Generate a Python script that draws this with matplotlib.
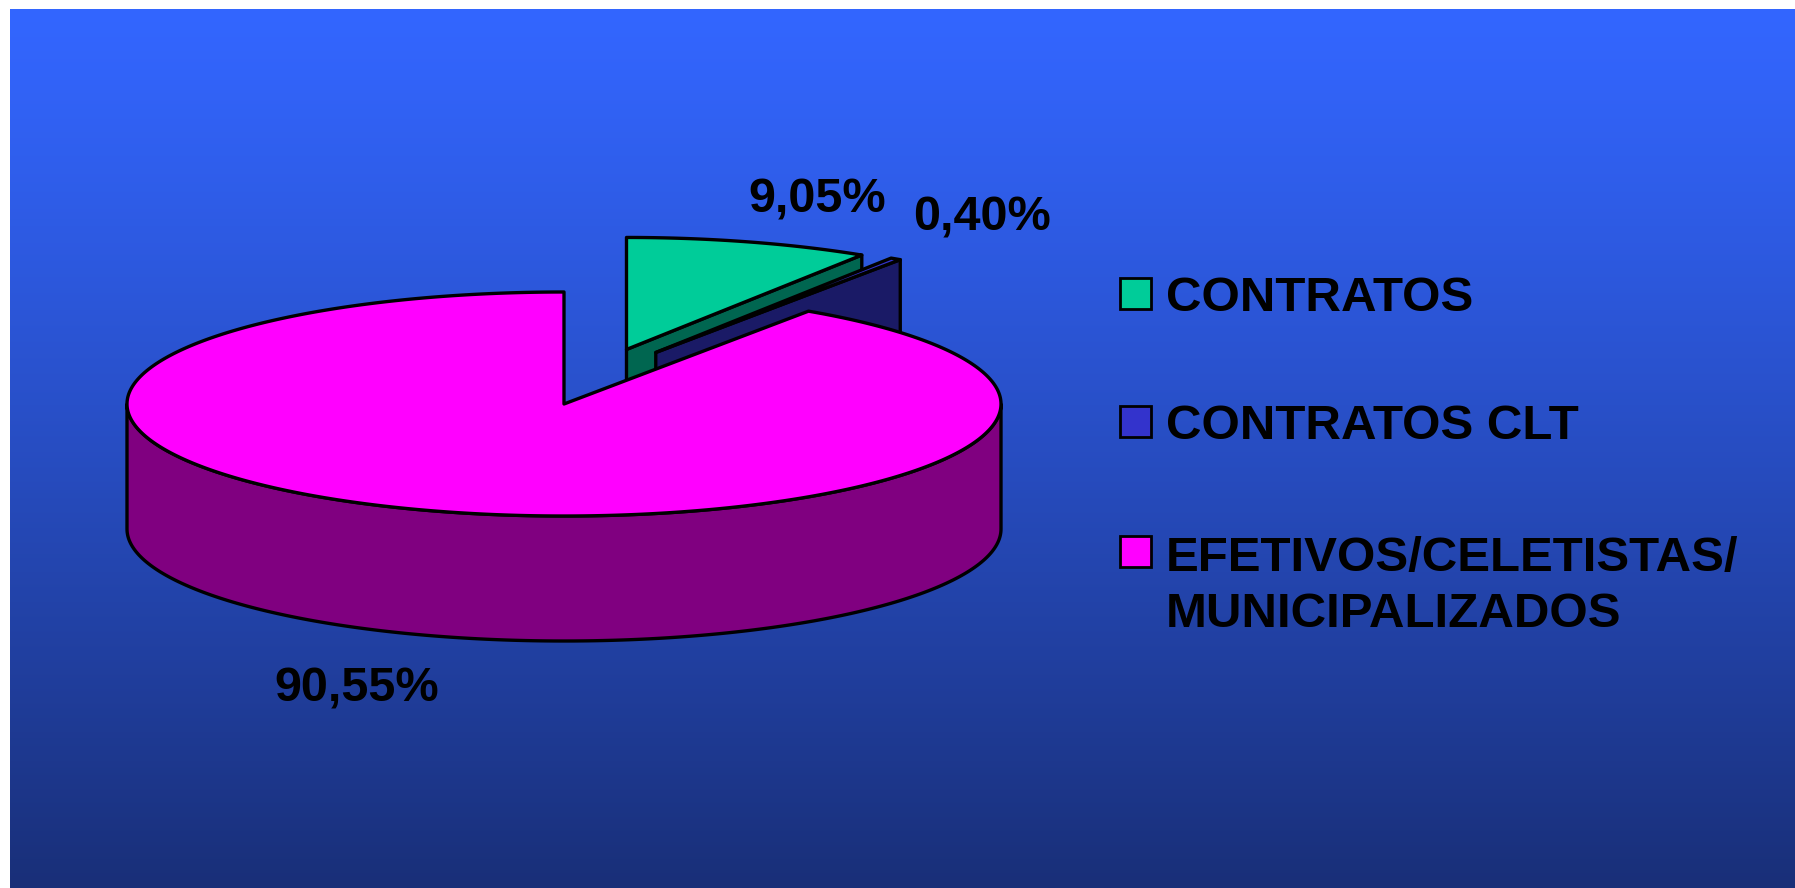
import numpy as np
import matplotlib
matplotlib.use('Agg')
import matplotlib.pyplot as plt
from matplotlib.patches import Polygon, Rectangle

# ---------------- data ----------------
categories = ['CONTRATOS', 'CONTRATOS CLT', 'EFETIVOS/CELETISTAS/\nMUNICIPALIZADOS']
values = [9.05, 0.40, 90.55]
value_labels = ['9,05%', '0,40%', '90,55%']

# ---------------- style ----------------
top_colors = ['#00CC99', '#3333CC', '#FF00FF']
side_colors = ['#006650', '#1A1A66', '#800080']
explode_xy = [(0.143, 0.487), (0.21, 0.46), (0.0, 0.0)]   # in radius units
label_xy = [(817, 212), (982, 230), (357, 701)]            # text baselines (px)
legend_y = [293.5, 421.5, 551.0]
LINE_STEP = 58.0

W, H = 1795, 888
fig = plt.figure(figsize=(W / 100, H / 100), dpi=100, facecolor='white')
ax = fig.add_axes([0, 0, 1, 1])
ax.axis('off')

# background gradient
top_c = np.array([51, 102, 255]) / 255
bot_c = np.array([25, 47, 120]) / 255
f = np.linspace(0, 1, 400) ** 1.15
grad = top_c[None, :] * (1 - f[:, None]) + bot_c[None, :] * f[:, None]
ax.imshow(grad[:, None, :], extent=(10, W, H, 10), aspect='auto', zorder=0,
          interpolation='bilinear')
ax.set_xlim(0, W)
ax.set_ylim(H, 0)

# ---------------- 3D pie ----------------
cx, cy, A, B, D = 564.0, 404.0, 437.0, 112.0, 125.0
start = 90.0
fr = np.array(values) / np.sum(values)
cum = np.concatenate([[0.0], np.cumsum(fr)])
edge_kw = dict(edgecolor='black', linewidth=2.4, joinstyle='round')


def rim(th, ox, oy, z):
    t = np.radians(th)
    return np.column_stack([cx + ox + A * np.cos(t), cy + oy - B * np.sin(t) + z])


slices = []
for i in range(len(values)):
    lo = start - 360.0 * cum[i + 1]
    hi = start - 360.0 * cum[i]
    mid = np.radians((lo + hi) / 2)
    slices.append((np.sin(mid), i, lo, hi))
slices.sort(key=lambda s: -s[0])

for order, (_, i, lo, hi) in enumerate(slices):
    ox = explode_xy[i][0] * A
    oy = -explode_xy[i][1] * B
    z0 = 2 + order * 3
    vtop = np.array([[cx + ox, cy + oy]])
    vbot = np.array([[cx + ox, cy + oy + D]])
    # radial faces
    for ang, vis in [(lo, np.cos(np.radians(lo)) > 1e-6),
                     (hi, np.cos(np.radians(hi)) < -1e-6)]:
        if vis:
            rt = rim([ang], ox, oy, 0)
            rb = rim([ang], ox, oy, D)
            poly = np.vstack([vtop, rt, rb, vbot])
            ax.add_patch(Polygon(poly, closed=True, facecolor=side_colors[i],
                                 zorder=z0, **edge_kw))
    # outer side (front-facing part)
    for k in range(-2, 3):
        s = max(lo, -180 + 360 * k)
        e = min(hi, 360 * k)
        if e > s:
            th = np.linspace(s, e, 200)
            poly = np.vstack([rim(th, ox, oy, 0), rim(th[::-1], ox, oy, D)])
            ax.add_patch(Polygon(poly, closed=True, facecolor=side_colors[i],
                                 zorder=z0 + 1, **edge_kw))
    # top face
    th = np.linspace(lo, hi, max(3, int((hi - lo) * 2)))
    poly = np.vstack([vtop, rim(th, ox, oy, 0)])
    ax.add_patch(Polygon(poly, closed=True, facecolor=top_colors[i],
                         zorder=z0 + 2, **edge_kw))

FONT = ['Liberation Sans', 'Arial', 'DejaVu Sans']

# value labels
for (x, y), txt in zip(label_xy, value_labels):
    ax.text(x, y, txt, ha='center', va='baseline', fontsize=35,
            fontweight='bold', family=FONT, color='black', zorder=20)

# legend
for yc, lab, col in zip(legend_y, categories, top_colors):
    ax.add_patch(Rectangle((1120, yc - 15.5), 31, 31, facecolor=col,
                           edgecolor='black', linewidth=2.0, zorder=20))
    nlines = lab.count('\n') + 1
    ax.text(1166, yc + 17.5 + LINE_STEP * (nlines - 1), lab, ha='left',
            va='baseline', fontsize=35.5, fontweight='bold', family=FONT,
            linespacing=1.3, color='black', zorder=20)

fig.savefig('out.png', dpi=100, facecolor='white')
